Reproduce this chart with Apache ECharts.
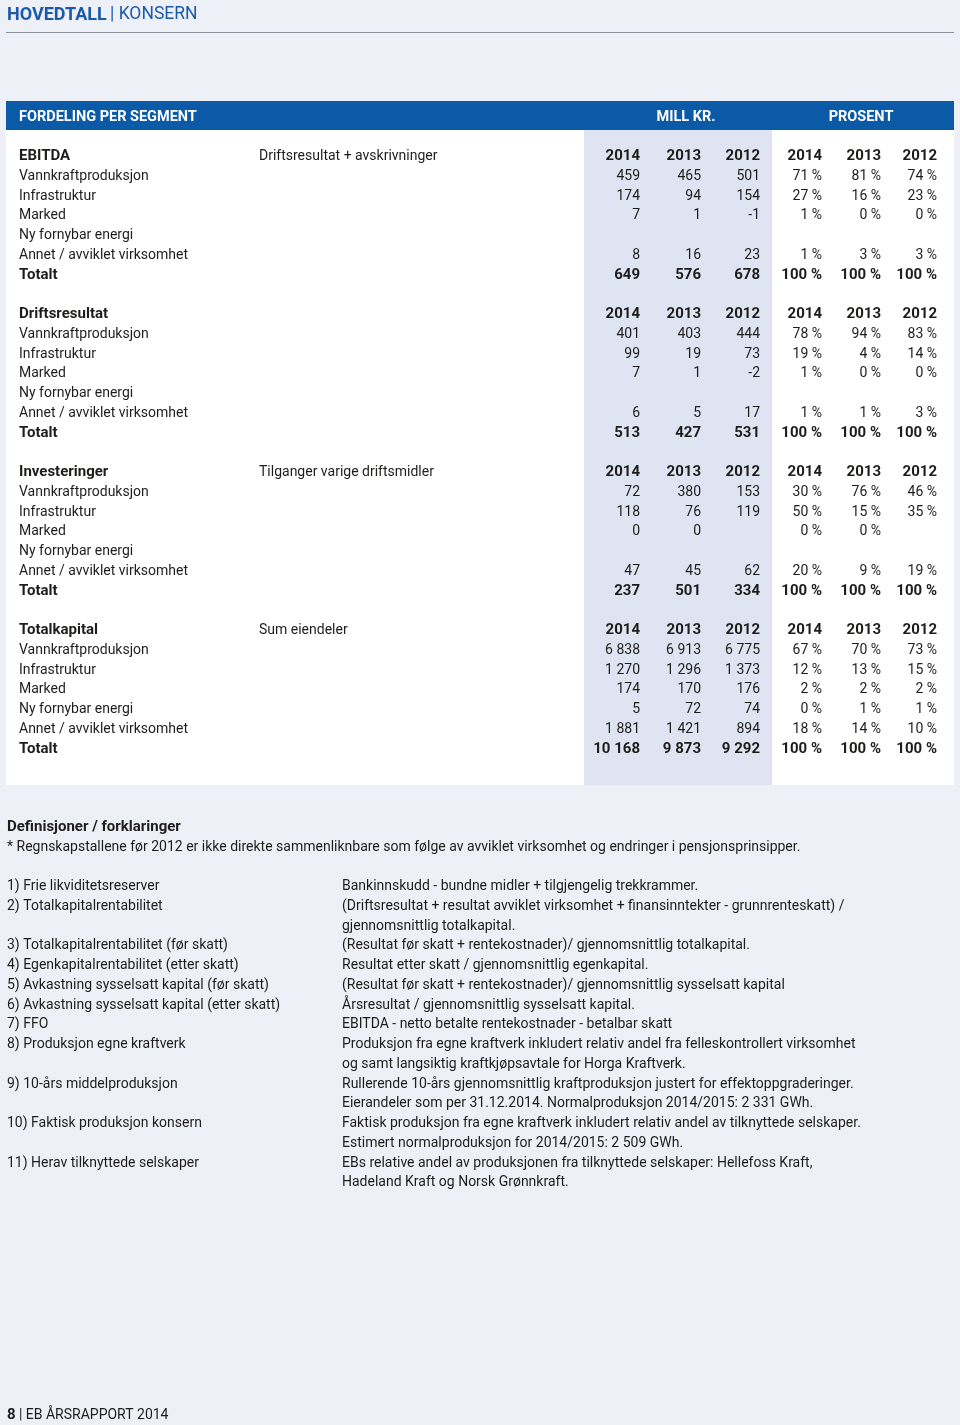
<!DOCTYPE html>
<html>
<head>
<meta charset="utf-8">
<script src="https://cdn.jsdelivr.net/npm/echarts@6/dist/echarts.min.js"></script>
<style>
  html, body { margin: 0; padding: 0; background: #eef0f8; }
  #main { width: 960px; height: 1425px; }
</style>
</head>
<body>
<div id="main"></div>
<script>
// ---- data ----
const years = ['2014', '2013', '2012'];
const segments = ['Vannkraftproduksjon', 'Infrastruktur', 'Marked', 'Ny fornybar energi', 'Annet / avviklet virksomhet'];
const sectionNames = ['EBITDA', 'Driftsresultat', 'Investeringer', 'Totalkapital'];
const sectionNotes = ['Driftsresultat + avskrivninger', '', 'Tilganger varige driftsmidler', 'Sum eiendeler'];

// mill kr, rows = segments, cols = 2014, 2013, 2012
const ebitdaMill = [[459, 465, 501], [174, 94, 154], [7, 1, -1], [null, null, null], [8, 16, 23]];
const ebitdaPct = [[71, 81, 74], [27, 16, 23], [1, 0, 0], [null, null, null], [1, 3, 3]];
const ebitdaTotal = [649, 576, 678];

const driftMill = [[401, 403, 444], [99, 19, 73], [7, 1, -2], [null, null, null], [6, 5, 17]];
const driftPct = [[78, 94, 83], [19, 4, 14], [1, 0, 0], [null, null, null], [1, 1, 3]];
const driftTotal = [513, 427, 531];

const invMill = [[72, 380, 153], [118, 76, 119], [0, 0, null], [null, null, null], [47, 45, 62]];
const invPct = [[30, 76, 46], [50, 15, 35], [0, 0, null], [null, null, null], [20, 9, 19]];
const invTotal = [237, 501, 334];

const kapMill = [[6838, 6913, 6775], [1270, 1296, 1373], [174, 170, 176], [5, 72, 74], [1881, 1421, 894]];
const kapPct = [[67, 70, 73], [12, 13, 15], [2, 2, 2], [0, 1, 1], [18, 14, 10]];
const kapTotal = [10168, 9873, 9292];

const totalPct = [100, 100, 100];

const defLabels = [
  '1) Frie likviditetsreserver',
  '2) Totalkapitalrentabilitet',
  '3) Totalkapitalrentabilitet (før skatt)',
  '4) Egenkapitalrentabilitet (etter skatt)',
  '5) Avkastning sysselsatt kapital (før skatt)',
  '6) Avkastning sysselsatt kapital (etter skatt)',
  '7) FFO',
  '8) Produksjon egne kraftverk',
  '9) 10-års middelproduksjon',
  '10) Faktisk produksjon konsern',
  '11) Herav tilknyttede selskaper'
];
const defTexts = [
  ['Bankinnskudd - bundne midler + tilgjengelig trekkrammer.'],
  ['(Driftsresultat + resultat avviklet virksomhet + finansinntekter - grunnrenteskatt) /', 'gjennomsnittlig totalkapital.'],
  ['(Resultat før skatt + rentekostnader)/ gjennomsnittlig totalkapital.'],
  ['Resultat etter skatt / gjennomsnittlig egenkapital.'],
  ['(Resultat før skatt + rentekostnader)/ gjennomsnittlig sysselsatt kapital'],
  ['Årsresultat / gjennomsnittlig sysselsatt kapital.'],
  ['EBITDA - netto betalte rentekostnader - betalbar skatt'],
  ['Produksjon fra egne kraftverk inkludert relativ andel fra felleskontrollert virksomhet', 'og samt langsiktig kraftkjøpsavtale for Horga Kraftverk.'],
  ['Rullerende 10-års gjennomsnittlig kraftproduksjon justert for effektoppgraderinger.', 'Eierandeler som per 31.12.2014. Normalproduksjon 2014/2015: 2 331 GWh.'],
  ['Faktisk produksjon fra egne kraftverk inkludert relativ andel av tilknyttede selskaper.', 'Estimert normalproduksjon for 2014/2015: 2 509 GWh.'],
  ['EBs relative andel av produksjonen fra tilknyttede selskaper: Hellefoss Kraft,', 'Hadeland Kraft og Norsk Grønnkraft.']
];

const sections = [
  { mill: ebitdaMill, pct: ebitdaPct, total: ebitdaTotal },
  { mill: driftMill, pct: driftPct, total: driftTotal },
  { mill: invMill, pct: invPct, total: invTotal },
  { mill: kapMill, pct: kapPct, total: kapTotal }
];

// ---- layout ----
const FONT = 'Roboto';
const INK = '#1d1d1b';
const BLUE = '#0b5aa8';
const rowH = 19.8;
const sectionGap = 158;
const firstRowY = 156.5;
const millX = [640, 701, 760];   // right edges
const pctX = [822, 881, 937];

function fmt(n) {
  if (n === null || n === undefined) return '';
  const s = Math.abs(n).toString().replace(/\B(?=(\d{3})+(?!\d))/g, ' ');
  return (n < 0 ? '-' : '') + s;
}
function fmtPct(n) {
  return n === null || n === undefined ? '' : n + ' %';
}
function txt(x, y, s, opt) {
  opt = opt || {};
  const size = opt.size || (opt.bold ? 15 : 14);
  return {
    type: 'text', x: x, y: y, silent: true,
    style: {
      text: s, fill: opt.fill || INK, font: (opt.bold ? 'bold ' : '') + size + 'px ' + FONT,
      textAlign: opt.align || 'left', textVerticalAlign: 'middle'
    }
  };
}

const els = [];

// title
els.push({
  type: 'text', x: 7, y: 15, silent: true,
  style: {
    text: '{b|HOVEDTALL} {r|| KONSERN}', textVerticalAlign: 'middle',
    rich: {
      b: { font: 'bold 18px ' + FONT, fill: '#1a5aa6' },
      r: { font: '17.5px ' + FONT, fill: '#1a5aa6' }
    }
  }
});
els.push({ type: 'line', silent: true, shape: { x1: 6, y1: 32.5, x2: 954, y2: 32.5 }, style: { stroke: '#8a8f9c', lineWidth: 1 } });

// table backgrounds
els.push({ type: 'rect', silent: true, shape: { x: 6, y: 130, width: 948, height: 655 }, style: { fill: '#ffffff' } });
els.push({ type: 'rect', silent: true, shape: { x: 584, y: 130, width: 188, height: 655 }, style: { fill: '#dfe4f2' } });
els.push({ type: 'rect', silent: true, shape: { x: 6, y: 101, width: 948, height: 29 }, style: { fill: BLUE } });
els.push(txt(19, 117, 'FORDELING PER SEGMENT', { bold: true, fill: '#ffffff', size: 14.5 }));
els.push(txt(686, 117, 'MILL KR.', { bold: true, fill: '#ffffff', size: 14.5, align: 'center' }));
els.push(txt(861, 117, 'PROSENT', { bold: true, fill: '#ffffff', size: 14.5, align: 'center' }));

sections.forEach(function (sec, s) {
  const y0 = firstRowY + s * sectionGap;
  els.push(txt(19, y0, sectionNames[s], { bold: true }));
  if (sectionNotes[s]) els.push(txt(259, y0, sectionNotes[s]));
  years.forEach(function (yr, c) {
    els.push(txt(millX[c], y0, yr, { bold: true, align: 'right' }));
    els.push(txt(pctX[c], y0, yr, { bold: true, align: 'right' }));
  });
  segments.forEach(function (name, r) {
    const y = y0 + (r + 1) * rowH;
    els.push(txt(19, y, name));
    for (let c = 0; c < 3; c++) {
      els.push(txt(millX[c], y, fmt(sec.mill[r][c]), { align: 'right' }));
      els.push(txt(pctX[c], y, fmtPct(sec.pct[r][c]), { align: 'right' }));
    }
  });
  const yt = y0 + 6 * rowH;
  els.push(txt(19, yt, 'Totalt', { bold: true }));
  for (let c = 0; c < 3; c++) {
    els.push(txt(millX[c], yt, fmt(sec.total[c]), { bold: true, align: 'right' }));
    els.push(txt(pctX[c], yt, fmtPct(totalPct[c]), { bold: true, align: 'right' }));
  }
});

// definitions
els.push(txt(7, 827, 'Definisjoner / forklaringer', { bold: true }));
els.push(txt(7, 847, '* Regnskapstallene før 2012 er ikke direkte sammenliknbare som følge av avviklet virksomhet og endringer i pensjonsprinsipper.'));
let line = 0;
defLabels.forEach(function (lab, i) {
  const y = 886.5 + line * 19.75;
  els.push(txt(7, y, lab));
  defTexts[i].forEach(function (t, k) {
    els.push(txt(342, y + k * 19.75, t));
  });
  line += defTexts[i].length;
});

// footer
els.push({
  type: 'text', x: 7, y: 1415, silent: true,
  style: {
    text: '{b|8} {r|| EB ÅRSRAPPORT 2014}', textVerticalAlign: 'middle',
    rich: {
      b: { font: 'bold 15px ' + FONT, fill: INK },
      r: { font: '14px ' + FONT, fill: INK }
    }
  }
});

const chart = echarts.init(document.getElementById('main'), null, { renderer: 'canvas' });
chart.setOption({
  backgroundColor: '#eef0f8',
  animation: false,
  graphic: { elements: els }
});
window.addEventListener('resize', function () { chart.resize(); });
</script>
</body>
</html>
